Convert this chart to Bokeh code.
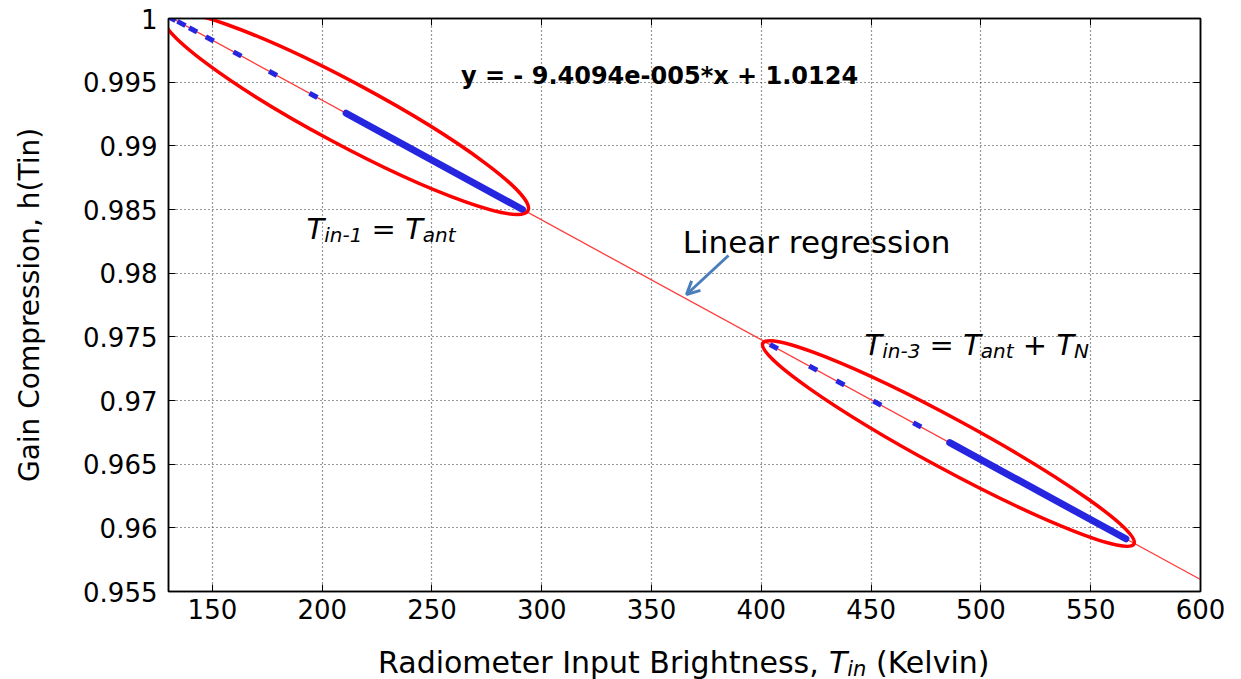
from bokeh.plotting import figure
from bokeh.layouts import column
from bokeh.models import FixedTicker, LinearAxis, Label, Arrow, OpenHead, Range1d
from bokeh.embed import file_html
from bokeh.resources import INLINE

# ---------------- data ----------------
x_ticks = [150, 200, 250, 300, 350, 400, 450, 500, 550, 600]
x_tick_labels = ["150", "200", "250", "300", "350", "400", "450", "500", "550", "600"]
y_tick_labels = ["0.955", "0.96", "0.965", "0.97", "0.975", "0.98", "0.985", "0.99", "0.995", "1"]
y_ticks = [float(s) for s in y_tick_labels]

# T_in-1 = T_ant cluster (sparse points, then dense run)
near_sparse_x = [131.4, 135.9, 141.2, 148.8, 161.4, 177.6, 196.0]
near_sparse_y = [1.0000, 0.99961, 0.99911, 0.99840, 0.99721, 0.99569, 0.99396]
near_dense_x = [210.9, 291.2]
near_dense_y = [0.99256, 0.98500]
# T_in-3 = T_ant + T_N cluster
far_sparse_x = [405.7, 423.6, 436.0, 452.8, 471.0]
far_sparse_y = [0.97423, 0.97254, 0.97138, 0.96979, 0.96808]
far_dense_x = [485.8, 566.0]
far_dense_y = [0.96669, 0.95914]
# linear regression line end points
fit_x = [130, 600]
fit_y = [1.00017, 0.95594]
# ellipse centres around the two clusters
ellipse_x = [210.6, 485.2]
ellipse_y = [0.99258, 0.96662]

equation_text = "y = - 9.4094e-005*x + 1.0124"

# ---------------- layout / style ----------------
X_MIN, X_MAX = 130, 600
Y_MIN, Y_MAX = 0.955, 1.0
W, H = 1241, 679
MAIN_H = 631                          # main plot canvas height; title strip below
FL, FR, FT, FB = 168, 1200, 18, 591   # frame edges in px
FONT = "DejaVu Sans"
BLUE = "#2626e0"
RED = "#ff0000"

p = figure(width=W, height=MAIN_H, output_backend="svg", toolbar_location=None,
           x_range=Range1d(X_MIN, X_MAX), y_range=Range1d(Y_MIN, Y_MAX),
           min_border_left=FL, min_border_right=W - FR,
           min_border_top=FT, min_border_bottom=MAIN_H - FB)
p.background_fill_color = "white"
p.border_fill_color = "white"
p.outline_line_color = "black"
p.outline_line_width = 1.5

# axes
p.xaxis.ticker = FixedTicker(ticks=x_ticks)
p.yaxis.ticker = FixedTicker(ticks=y_ticks)
p.xaxis.major_label_overrides = {v: s for v, s in zip(x_ticks, x_tick_labels)}
p.yaxis.major_label_overrides = {v: s for v, s in zip(y_ticks, y_tick_labels)}
for ax in (p.xaxis[0], p.yaxis[0]):
    ax.major_tick_in = 7
    ax.major_tick_out = 0
    ax.minor_tick_line_color = None
    ax.axis_line_color = "black"
    ax.axis_line_width = 1.5
    ax.major_tick_line_color = "black"
    ax.major_label_text_font = FONT
    ax.major_label_text_font_size = "26px"
    ax.major_label_text_color = "black"
p.xaxis.major_label_standoff = 7
p.yaxis.major_label_standoff = 11
p.yaxis.axis_label = "Gain Compression, h(Tin)"
p.yaxis.axis_label_text_font = FONT
p.yaxis.axis_label_text_font_size = "28px"
p.yaxis.axis_label_text_font_style = "normal"
p.yaxis.axis_label_text_color = "black"
p.yaxis.axis_label_standoff = 34

for loc, tk in (("above", x_ticks), ("right", y_ticks)):
    ax = LinearAxis(ticker=FixedTicker(ticks=tk), major_tick_in=7, major_tick_out=0,
                    minor_tick_line_color=None, major_label_text_font_size="0px",
                    major_label_text_color=None, axis_line_color="black",
                    axis_line_width=1.5, major_label_standoff=0)
    p.add_layout(ax, loc)

# grid
p.xgrid.ticker = FixedTicker(ticks=x_ticks)
p.ygrid.ticker = FixedTicker(ticks=y_ticks)
p.grid.grid_line_color = "#333333"
p.grid.grid_line_dash = "1 3"
p.grid.grid_line_width = 1.2

# regression line
p.line(fit_x, fit_y, line_color="#ff3b3b", line_width=1.3)

# blue data
for dx, dy in ((near_dense_x, near_dense_y), (far_dense_x, far_dense_y)):
    p.line(dx, dy, line_color=BLUE, line_width=7, line_cap="round")
p.scatter(near_sparse_x + far_sparse_x, near_sparse_y + far_sparse_y, marker="dash",
          size=9, angle=-0.49, line_color=BLUE, line_width=5)

# ellipses
p.ellipse(x=ellipse_x, y=ellipse_y, width=[414, 422], height=[62, 50],
          angle=[-0.492, -0.496], width_units="screen", height_units="screen",
          fill_color=None, line_color=RED, line_width=3.5)


# arrow
def px2x(px):
    return X_MIN + (px - FL) * (X_MAX - X_MIN) / (FR - FL)


def px2y(py):
    return Y_MAX - (py - FT) * (Y_MAX - Y_MIN) / (FB - FT)


p.add_layout(Arrow(end=OpenHead(size=13, line_color="#4a7ebb", line_width=3),
                   x_start=px2x(728), y_start=px2y(255), x_end=px2x(686), y_end=px2y(294),
                   line_color="#4a7ebb", line_width=3))

# strip below the main plot that carries the x-axis title
# (its frame is aligned horizontally with the main frame by the column layout)
p2 = figure(width=W, height=H - MAIN_H, output_backend="svg", toolbar_location=None,
            x_range=Range1d(FL, FR), y_range=Range1d(0, H - MAIN_H),
            x_axis_type=None, y_axis_type=None, min_border=0,
            min_border_left=FL, min_border_right=W - FR)
p2.outline_line_color = None
p2.grid.visible = False
p2.background_fill_color = "white"
p2.border_fill_color = "white"

# ---------------- texts ----------------
EM = {' ': .318, '(': .390, ')': .390, '*': .5, '+': .838, ',': .318, '-': .361, '.': .318,
      '=': .838, 'B': .686, 'C': .698, 'G': .776, 'I': .295, 'K': .656, 'L': .557, 'N': .748,
      'R': .695, 'T': .611, 'a': .613, 'c': .550, 'd': .635, 'e': .615, 'g': .635, 'h': .634,
      'i': .278, 'l': .278, 'm': .974, 'n': .634, 'o': .612, 'p': .635, 'r': .411, 's': .521,
      't': .392, 'u': .634, 'v': .592, 'x': .592, 'y': .592}
for d in "0123456789":
    EM[d] = .636


def tw(s, size):
    return sum(EM.get(c, .6) for c in s) * size


def label(fig, text, x_px, base_px, size, style="normal", align="left"):
    if fig is p:
        kw = dict(x=X_MIN, y=Y_MAX, x_offset=x_px - FL, y_offset=-(base_px - FT))
    else:
        kw = dict(x=x_px, y=H - base_px)
    fig.add_layout(Label(text=text, text_font=FONT, text_font_size=f"{size}px",
                         text_font_style=style, text_align=align,
                         text_baseline="alphabetic", text_color="black", **kw))


def compose(fig, pieces, x_px, base_px, center=False):
    if center:
        x_px -= sum(tw(t, s) for t, s, st, dy in pieces) / 2
    for t, s, st, dy in pieces:
        lead = len(t) - len(t.lstrip(" "))
        label(fig, t.strip(" "), x_px + tw(" " * lead, s), base_px + dy, s, st)
        x_px += tw(t, s)


label(p, equation_text, 659, 75, 24, "bold", "center")
label(p, "Linear regression", 816, 241, 31, "normal", "center")
compose(p, [("T", 29, "italic", 0), ("in-1", 20, "italic", 6), (" = ", 29, "normal", 0),
            ("T", 29, "italic", 0), ("ant", 20, "italic", 6)], 306, 228)
compose(p, [("T", 29, "italic", 0), ("in-3", 20, "italic", 6), (" = ", 29, "normal", 0),
            ("T", 29, "italic", 0), ("ant", 20, "italic", 6), (" + ", 29, "normal", 0),
            ("T", 29, "italic", 0), ("N", 20, "italic", 6)], 864, 344)
compose(p2, [("Radiometer Input Brightness, ", 30, "normal", 0), ("T", 30, "italic", 0),
             ("in", 21, "italic", 6), (" (Kelvin)", 30, "normal", 0)], (FL + FR) / 2, 662,
        center=True)

layout = column(p, p2, spacing=0)
open("out.html", "w").write(file_html(layout, INLINE))
